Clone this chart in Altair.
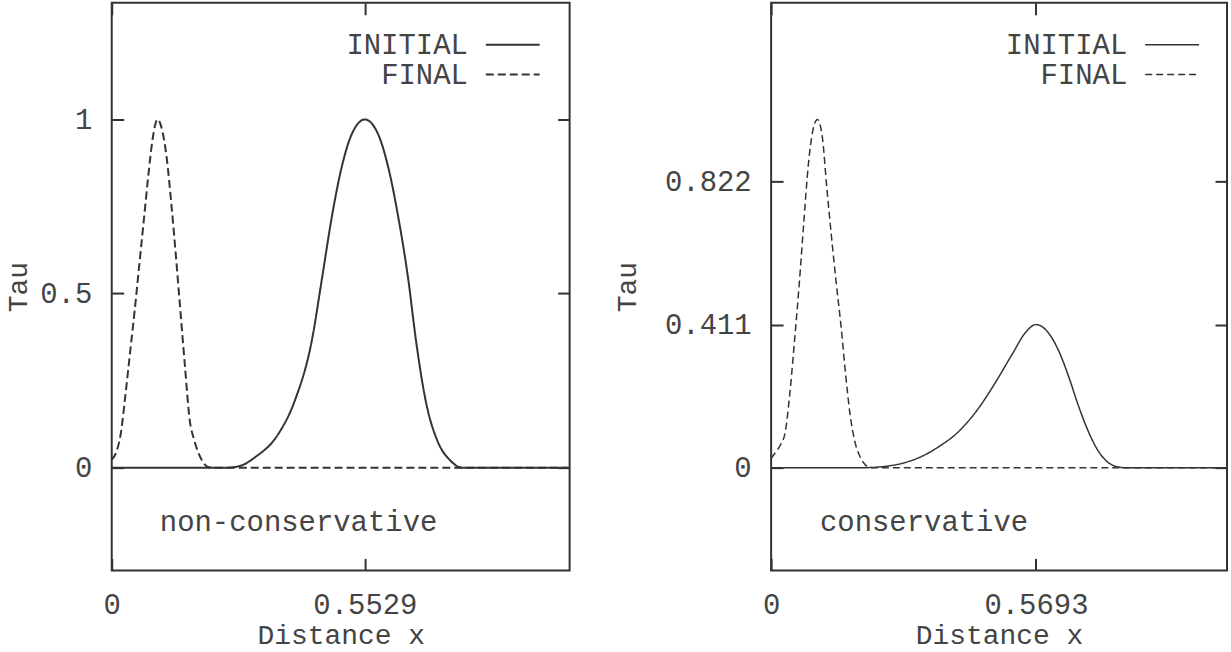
import altair as alt
import pandas as pd

FONT = "Liberation Mono"
INK = "#333333"
TEXT_INK = "#444444"
FS = 29

# Non-conservative scheme: pulse profiles (distance x, Tau)
nc_initial_x = [0.0, 0.25, 0.28, 0.313, 0.364, 0.40, 0.437, 0.46, 0.48, 0.502, 0.524,
                0.5529, 0.582, 0.604, 0.626, 0.648, 0.664, 0.686, 0.712, 0.74, 0.765, 1.0]
nc_initial_tau = [0.0, 0.0, 0.005, 0.030, 0.097, 0.193, 0.365, 0.55, 0.715, 0.862, 0.957,
                  1.0, 0.957, 0.862, 0.718, 0.537, 0.37, 0.19, 0.075, 0.02, 0.0, 0.0]
nc_final_x = [0.0, 0.01, 0.02, 0.03, 0.04, 0.05, 0.06, 0.07, 0.08, 0.09, 0.10, 0.11,
              0.12, 0.13, 0.14, 0.15, 0.16, 0.17, 0.18, 0.19, 0.20, 0.21, 0.22, 1.0]
nc_final_tau = [0.023, 0.045, 0.10, 0.21, 0.33, 0.45, 0.58, 0.71, 0.84, 0.95, 1.0, 0.97,
                0.89, 0.76, 0.61, 0.45, 0.29, 0.14, 0.08, 0.04, 0.015, 0.002, 0.0, 0.0]

# Conservative scheme
c_initial_x = [0.0, 0.20, 0.24, 0.28, 0.32, 0.36, 0.40, 0.44, 0.48, 0.52, 0.545, 0.5693,
               0.60, 0.62, 0.64, 0.66, 0.68, 0.70, 0.72, 0.74, 0.76, 0.98]
c_initial_tau = [0.0, 0.0, 0.003, 0.012, 0.03, 0.06, 0.10, 0.16, 0.24, 0.33, 0.385, 0.411,
                 0.38, 0.33, 0.26, 0.18, 0.11, 0.055, 0.02, 0.004, 0.0, 0.0]
c_final_x = [0.0, 0.01, 0.02, 0.03, 0.04, 0.05, 0.06, 0.07, 0.08, 0.09, 0.0995, 0.11,
             0.12, 0.13, 0.14, 0.15, 0.16, 0.17, 0.18, 0.19, 0.20, 0.21, 0.22, 0.98]
c_final_tau = [0.027, 0.045, 0.065, 0.10, 0.21, 0.36, 0.52, 0.70, 0.87, 0.97, 1.0, 0.95,
               0.80, 0.66, 0.53, 0.41, 0.27, 0.15, 0.075, 0.035, 0.012, 0.002, 0.0, 0.0]

nc_x_ticks = [0, 0.5529]
nc_y_ticks = [0, 0.5, 1]
c_x_ticks = [0, 0.5693]
c_y_ticks = [0, 0.411, 0.822]

SERIES = ["INITIAL", "FINAL"]


def profiles(ix, iy, fx, fy):
    rows = []
    for name, xs, ys in (("INITIAL", ix, iy), ("FINAL", fx, fy)):
        for i, (x, y) in enumerate(zip(xs, ys)):
            rows.append({"x": x, "tau": y, "series": name, "order": i})
    return pd.DataFrame(rows)


def key_entry(name, row, stroke_w, dash):
    """One legend row: label on the left, line sample on the right."""
    y_px = 42 + 30 * row
    label = alt.Chart(pd.DataFrame({"series": [name]})).mark_text(
        align="right", baseline="middle", font=FONT, fontSize=FS, color=TEXT_INK
    ).encode(text="series:N", x=alt.value(357), y=alt.value(y_px))
    sample = alt.Chart(pd.DataFrame({"series": [name]})).mark_rule(
        color=INK, strokeWidth=stroke_w, strokeDash=dash
    ).encode(x=alt.value(375), x2=alt.value(429), y=alt.value(y_px))
    return [label, sample]


def panel(df, x_max, x_ticks, y_ticks, note, stroke_w, dash, title_x):
    xs = alt.Scale(domain=[0, x_max], nice=False, zero=False)
    ys = alt.Scale(domain=[-0.295, 1.335], nice=False, zero=False)
    inward = dict(domain=False, grid=False, ticks=True, tickSize=12, offset=-12,
                  tickColor=INK, tickWidth=2, labelFlush=False,
                  labelExpr="'' + datum.value")

    lines = alt.Chart(df).mark_line(interpolate="monotone", color=INK,
                                    strokeWidth=stroke_w).encode(
        x=alt.X("x:Q", scale=xs,
                axis=alt.Axis(orient="bottom", values=x_ticks, title="Distance x",
                              labelPadding=20, titlePadding=2, **inward)),
        y=alt.Y("tau:Q", scale=ys,
                axis=alt.Axis(orient="left", values=y_ticks, title="Tau",
                              labelPadding=20, titleX=title_x,
                              titleBaseline="middle", titleAlign="center", **inward)),
        strokeDash=alt.StrokeDash(
            "series:N",
            scale=alt.Scale(domain=SERIES, range=[[1, 0], dash]),
            legend=None,
        ),
        order="order:Q",
    )

    mirror = alt.Chart(df).mark_line(opacity=0).encode(
        x=alt.X("x:Q", scale=xs,
                axis=alt.Axis(orient="top", values=x_ticks, labels=False, title=None,
                              **inward)),
        y=alt.Y("tau:Q", scale=ys,
                axis=alt.Axis(orient="right", values=y_ticks, labels=False, title=None,
                              **inward)),
    )

    note_df = pd.DataFrame({"x": [0.105], "tau": [-0.155], "label": [note]})
    text = alt.Chart(note_df).mark_text(align="left", baseline="middle", font=FONT,
                                        fontSize=FS, color=TEXT_INK).encode(
        x=alt.X("x:Q", scale=xs, axis=None),
        y=alt.Y("tau:Q", scale=ys, axis=None),
        text="label:N",
    )

    key = key_entry("INITIAL", 0, stroke_w, [1, 0]) + key_entry("FINAL", 1, stroke_w, dash)

    return alt.layer(lines, mirror, text, *key).resolve_axis(
        x="independent", y="independent"
    )


left = panel(profiles(nc_initial_x, nc_initial_tau, nc_final_x, nc_final_tau),
             1.0, nc_x_ticks, nc_y_ticks, "non-conservative", 2, [8, 4], -105
             ).properties(width=459, height=569)
right = panel(profiles(c_initial_x, c_initial_tau, c_final_x, c_final_tau),
              0.98, c_x_ticks, c_y_ticks, "conservative", 1.5, [7, 4], -156
              ).properties(width=457, height=569)

chart = alt.hconcat(left, right, spacing=38).resolve_scale(
    x="independent", y="independent", strokeDash="independent"
).properties(
    padding={"left": 4, "top": 0, "right": 0, "bottom": 0},
    background="white",
).configure_view(
    stroke=INK, strokeWidth=2
).configure_axis(
    labelFont=FONT, titleFont=FONT, labelFontSize=FS, titleFontSize=28,
    labelColor=TEXT_INK, titleColor=TEXT_INK, titleFontWeight="normal"
)

chart.save("out.html", embed_options={"renderer": "svg", "actions": False})
